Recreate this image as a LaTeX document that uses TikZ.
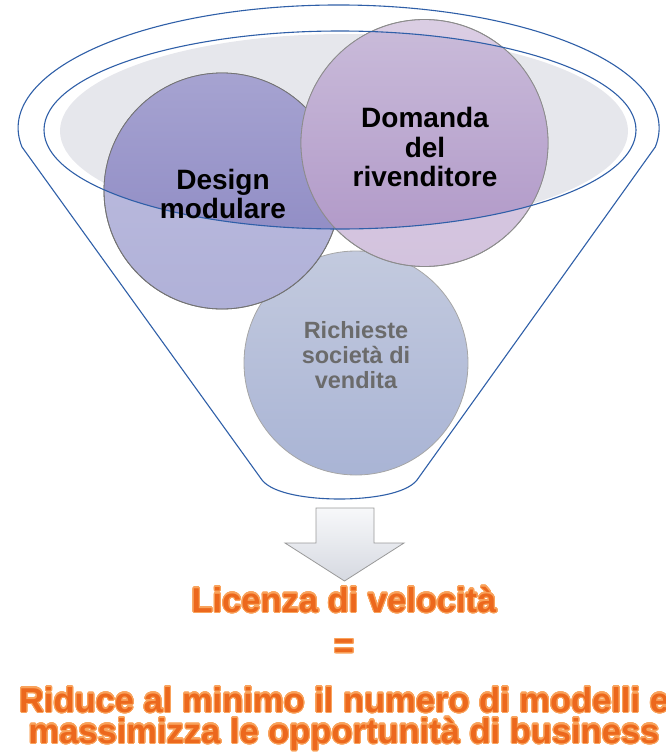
\documentclass[tikz,border=0pt]{standalone}
\usepackage{fontspec}
\setmainfont{Liberation Sans}
\usepackage{contour}
\contournumber{32}
\definecolor{funnelblue}{HTML}{2F5FA8}
\definecolor{bowlgray}{HTML}{E6E7EC}
\definecolor{desLtop}{HTML}{BFBEE0}
\definecolor{desLbot}{HTML}{B0B1D8}
\definecolor{desDtop}{HTML}{A6A3D1}
\definecolor{desDbot}{HTML}{8884C0}
\definecolor{domLtop}{HTML}{DACDE3}
\definecolor{domLbot}{HTML}{D3C3DE}
\definecolor{domDtop}{HTML}{CABCDA}
\definecolor{domDbot}{HTML}{AE95C6}
\definecolor{ricTop}{HTML}{C3CADE}
\definecolor{ricBot}{HTML}{A9B4D5}
\definecolor{ricText}{HTML}{6B6B6B}
\definecolor{orangeFill}{HTML}{EC681D}
\definecolor{orangeEdge}{HTML}{F9A35C}
\definecolor{arrowTop}{HTML}{F7F8FA}
\definecolor{arrowBot}{HTML}{D6D9E1}
\tikzset{
  funnelline/.style={draw=funnelblue, line width=1.1pt},
  bubble/.style={circle, inner sep=0pt, line width=0.8pt},
  bubbletext/.style={align=center, font=\bfseries\fontsize{28}{29.5}\selectfont, text=black},
  resulttext/.style={align=center, text=orangeFill, font=\bfseries\fontsize{34.5}{31}\selectfont},
}
\contourlength{1.1pt}
\begin{document}
\begin{tikzpicture}[x=1pt,y=-1pt]
\useasboundingbox (0,0) rectangle (666,755);
% gray bowl
\fill[bowlgray] (344,131) ellipse [x radius=284, y radius=97];
% circles
\node[bubble, minimum size=224pt, top color=ricTop, bottom color=ricBot, draw=gray!70] (ric) at (356,363) {};
\node[bubble, minimum size=236pt, top color=desLtop, bottom color=desLbot, draw=black!55] (des) at (222,191) {};
\begin{scope}
  \clip (340,130) ellipse [x radius=296, y radius=99];
  \path[top color=desDtop, bottom color=desDbot] (des.center) circle [radius=118];
\end{scope}
\draw[black!55, line width=0.8pt] (des.center) circle [radius=118];
\node[bubble, minimum size=247pt, top color=domLtop, bottom color=domLbot, draw=black!45] (dom) at (424.5,143) {};
\begin{scope}
  \clip (340,130) ellipse [x radius=296, y radius=99];
  \path[top color=domDtop, bottom color=domDbot] (dom.center) circle [radius=123.5];
\end{scope}
\draw[black!45, line width=0.8pt] (dom.center) circle [radius=123.5];
% funnel outline
\draw[funnelline] (22,147) arc [start angle=171.1, end angle=368.9, x radius=320.5, y radius=123]
  -- (417,480) .. controls (406,494) and (370,499) .. (339.5,499)
  .. controls (309,499) and (273,494) .. (262,480) -- cycle;
\draw[funnelline] (340,130) ellipse [x radius=296, y radius=99];
% texts in bubbles
\node[bubbletext] (destext) at (223,194) {Design\\modulare};
\node[bubbletext] (domtext) at (425,147) {Domanda\\del\\rivenditore};
\node[align=center, text=ricText, font=\bfseries\fontsize{23.5}{25}\selectfont] (rictext) at (356,355) {Richieste\\società di\\vendita};
% arrow
\path[top color=arrowTop, bottom color=arrowBot, draw=gray!80, line width=0.8pt]
  (316,508) -- (374,508) -- (374,543) -- (404,543) -- (344.5,581) -- (285,543) -- (316,543) -- cycle;
% result text
\node[resulttext, anchor=base] (licenza) at (344,612) {\contour{orangeEdge}{Licenza di velocità}};
\node[resulttext] (equals) at (344,649) {\contour{orangeEdge}{=}};
\node[resulttext, anchor=base] (riduce1) at (344,712) {\contour{orangeEdge}{Riduce al minimo il numero di modelli e}};
\node[resulttext, anchor=base] (riduce2) at (344,743) {\contour{orangeEdge}{massimizza le opportunità di business}};
\end{tikzpicture}
\end{document}
